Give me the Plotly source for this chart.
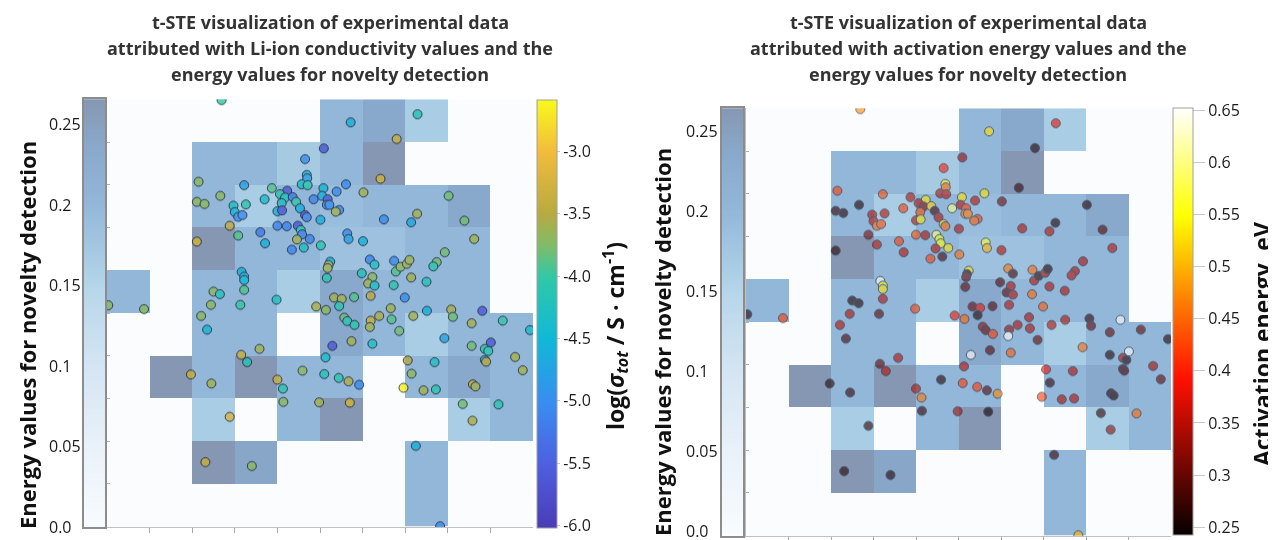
import numpy as np
import plotly.graph_objects as go

W, H = 1276, 540
OFF = 8  # page body margin of the exported html

# ---------------- DATA ----------------
tsne_x = [2.69,5.09,4.65,4.69,4.70,4.57,4.71,5.08,2.15,3.22,3.87,4.23,4.06,4.18,4.36,4.44,4.85,5.05,2.66,2.11,
          2.29,3.70,3.26,2.97,4.10,3.00,3.08,3.18,4.00,4.11,4.53,4.65,4.69,5.01,2.88,3.08,3.60,3.71,4.00,4.22,
          4.48,4.55,4.58,4.46,4.76,4.34,4.62,5.02,2.11,3.16,3.22,3.22,3.22,2.50,2.65,3.98,2.44,3.13,4.91,0.03,
          0.87,2.21,2.35,3.58,3.15,3.29,1.97,2.45,4.00,4.13,4.14,4.59,4.98,5.10,5.13,2.88,2.31,3.40,
          5.72,7.29,6.80,6.42,5.61,5.39,5.18,5.16,5.22,5.45,5.37,6.02,6.50,7.14,7.28,8.02,8.39,8.62,5.64,5.67,
          6.01,5.24,5.20,5.18,5.16,6.17,6.28,6.74,6.78,6.89,7.04,7.10,7.93,7.74,7.66,5.98,6.23,6.13,6.28,6.73,
          7.14,7.50,6.19,6.99,5.33,5.51,5.80,5.45,5.14,6.66,7.51,8.08,8.81,
          5.57,5.64,5.81,6.19,6.17,6.39,6.68,6.86,5.74,5.29,6.23,5.44,5.67,5.92,5.70,7.19,8.12,9.29,8.56,7.92,
          8.56,9.01,8.87,8.95,9.93,8.87,8.90,9.58,9.76,7.06,7.69,7.15,6.96,7.43,7.72,8.59,8.65,8.35,8.58,9.19,
          7.25,7.82]
tsne_y = [9.98,8.85,8.60,8.23,8.15,8.01,7.99,7.92,8.07,7.99,7.92,7.86,7.78,7.70,7.71,7.60,7.66,7.74,7.74,7.60,
          7.55,7.66,7.54,7.51,7.57,7.36,7.25,7.29,7.38,7.40,7.45,7.29,7.24,7.18,7.04,6.81,6.89,6.63,7.04,7.03,
          7.04,6.94,6.84,6.72,6.73,6.48,6.53,6.58,6.67,5.96,5.85,5.77,5.54,5.50,5.44,5.31,5.19,5.19,5.15,5.18,
          5.09,4.93,4.61,4.16,4.02,3.85,3.56,3.35,3.44,3.23,2.92,3.65,2.91,3.57,3.96,2.57,1.51,1.42,
          9.46,9.65,9.07,8.14,8.01,7.84,7.66,7.53,7.53,7.41,7.37,7.82,7.19,7.12,7.32,7.74,7.16,6.73,6.86,6.73,
          6.68,6.20,6.12,6.05,5.82,6.25,6.13,6.22,5.97,6.08,6.15,6.24,6.42,6.19,6.09,5.93,5.84,5.69,5.64,5.65,
          5.83,5.73,5.40,5.36,5.36,5.33,5.37,5.16,5.07,5.11,5.05,5.08,5.05,
          4.89,4.81,4.72,4.82,4.67,4.93,4.85,4.58,4.34,4.23,4.28,3.48,3.40,3.32,2.90,4.93,4.91,4.82,4.76,4.41,
          4.23,4.31,4.16,4.11,4.60,3.90,3.86,3.97,3.66,3.89,3.85,3.58,3.25,3.19,3.21,3.33,3.28,2.87,2.48,2.86,
          1.89,0.01]
log_sigma = [-4.0,-5.6,-5.0,-4.6,-4.8,-4.4,-4.1,-4.5,-3.7,-4.8,-3.9,-5.6,-4.1,-4.2,-5.2,-4.0,-5.1,-4.6,-3.7,-3.7,
             -3.7,-4.4,-4.1,-4.3,-4.3,-4.5,-5.0,-5.0,-4.6,-5.6,-4.6,-5.6,-5.1,-4.6,-3.4,-3.9,-5.2,-4.6,-5.1,-5.1,
             -5.6,-4.1,-5.1,-3.6,-5.1,-5.1,-4.3,-4.1,-3.3,-4.6,-4.6,-4.5,-3.9,-3.7,-4.2,-4.3,-3.7,-4.0,-3.55,-3.7,
             -3.7,-3.7,-4.5,-3.6,-3.4,-4.2,-3.4,-3.6,-3.4,-4.1,-3.7,-3.7,-3.6,-4.2,-4.4,-3.2,-3.4,-3.7,
             -4.6,-4.2,-3.4,-3.3,-5.0,-5.0,-5.6,-5.0,-5.0,-5.0,-3.6,-3.6,-5.0,-4.7,-3.6,-3.8,-3.8,-3.6,-5.0,-4.8,
             -4.6,-4.6,-3.6,-3.6,-4.1,-5.1,-4.3,-5.0,-3.9,-3.7,-3.6,-3.6,-3.8,-3.8,-4.1,-4.2,-3.7,-3.6,-4.3,-4.1,
             -3.6,-4.2,-3.5,-5.0,-3.6,-3.6,-3.9,-4.1,-3.7,-3.6,-4.6,-3.55,-5.6,
             -3.8,-4.1,-4.1,-3.4,-3.6,-3.55,-3.9,-3.8,-3.6,-5.6,-4.3,-4.1,-3.55,-5.0,-3.3,-3.6,-3.8,-4.0,-3.6,-4.8,
             -3.8,-5.6,-4.1,-4.1,-4.4,-4.3,-3.5,-3.6,-3.6,-3.5,-4.3,-3.7,-2.65,-3.6,-4.1,-3.4,-3.6,-3.8,-3.55,-4.1,
             -4.6,-5.0]
act_energy = [0.47,0.33,0.40,0.54,0.45,0.35,0.35,0.53,0.42,0.43,
              0.345,0.53,0.345,0.32,0.52,0.28,0.60,0.35,0.26,0.27,
              0.26,0.42,0.35,0.345,0.43,0.35,0.44,0.43,0.35,0.53,
              0.345,0.53,0.45,0.35,0.32,0.35,0.42,0.35,0.43,0.345,
              0.60,0.55,0.55,0.35,0.53,0.42,0.28,0.45,0.26,0.65,
              0.55,0.53,0.35,0.26,0.26,0.42,0.345,0.29,0.38,0.26,
              0.42,0.35,0.28,0.345,0.30,0.35,0.26,0.27,0.35,0.46,
              0.27,0.26,0.34,0.42,0.35,0.27,0.26,0.26,
              0.53,0.38,0.26,0.27,0.53,0.35,0.42,0.46,0.46,0.42,
              0.44,0.31,0.35,0.35,0.26,0.26,0.29,0.35,0.56,0.50,
              0.35,0.53,0.27,0.30,0.30,0.46,0.28,0.45,0.35,0.26,
              0.345,0.26,0.345,0.345,0.35,0.29,0.345,0.29,0.345,0.45,
              0.345,0.345,0.35,0.44,0.30,0.38,0.29,0.26,0.45,0.345,
              0.35,0.27,0.65,
              0.33,0.30,0.42,0.33,0.65,0.345,0.345,0.30,0.29,0.65,
              0.44,0.42,0.29,0.47,0.25,0.35,0.30,0.30,0.30,0.45,
              0.26,0.65,0.35,0.26,0.26,0.28,0.28,0.34,0.30,0.38,
              0.345,0.27,0.42,0.34,0.345,0.27,0.26,0.27,0.33,0.45,
              0.27,0.50]

N = None
energy_grid_top_down = [
    [N, N, N, N, N, 0.200, 0.235, 0.165, N, N],
    [N, N, 0.200, 0.200, 0.170, 0.200, 0.265, N, N, N],
    [N, N, 0.200, 0.165, 0.200, 0.190, 0.200, 0.200, 0.235, N],
    [N, N, 0.265, 0.200, 0.200, 0.185, 0.185, 0.200, 0.200, N],
    [0.200, N, 0.200, 0.200, 0.165, 0.235, 0.200, 0.200, 0.200, N],
    [N, N, 0.200, 0.200, N, 0.235, 0.200, 0.165, 0.200, 0.200],
    [N, 0.265, 0.200, 0.265, 0.200, 0.200, N, 0.200, 0.235, 0.200],
    [N, N, 0.165, N, 0.200, 0.265, N, N, 0.165, 0.200],
    [N, N, 0.265, 0.240, N, N, N, 0.200, N, N],
    [N, N, N, N, N, N, N, 0.200, N, N],
]
cell_centers = [i + 0.5 for i in range(10)]

energy_ticks = [0.0, 0.05, 0.1, 0.15, 0.2, 0.25]
energy_ticktext = ["0.0", "0.05", "0.1", "0.15", "0.2", "0.25"]
energy_max = 0.2656
sigma_ticks = [-6.0, -5.5, -5.0, -4.5, -4.0, -3.5, -3.0]
sigma_ticktext = ["-6.0", "-5.5", "-5.0", "-4.5", "-4.0", "-3.5", "-3.0"]
ea_ticks = [0.25, 0.3, 0.35, 0.4, 0.45, 0.5, 0.55, 0.6, 0.65]
ea_ticktext = ["0.25", "0.3", "0.35", "0.4", "0.45", "0.5", "0.55", "0.6", "0.65"]

title_left = ["t-STE visualization of experimental data",
              "attributed with Li-ion conductivity values and the",
              "energy values for novelty detection"]
title_right = ["t-STE visualization of experimental data",
               "attributed with activation energy values and the",
               "energy values for novelty detection"]

# ---------------- STYLE ----------------
heat_scale = [[0.0, '#f8fbfe'], [0.19, '#e9f1f9'], [0.38, '#d3e5f2'], [0.56, '#b6d6ea'],
              [0.62, '#a9cde4'], [0.70, '#9cc0de'], [0.753, '#93b7d9'], [0.885, '#89a9cc'],
              [1.0, '#8597b2']]
sigma_scale = [[0.0, '#4b3cb6'], [0.147, '#4e5fe0'], [0.29, '#3a8cf0'], [0.44, '#10b8d8'],
               [0.585, '#30c8a8'], [0.66, '#80bc68'], [0.735, '#b8aa40'], [0.88, '#f2bc3c'],
               [1.0, '#f9f91c']]
hot_scale = [[0.0, '#050000'], [0.365, '#ff1000'], [0.55, '#ff8000'], [0.746, '#ffff00'], [1.0, '#ffffff']]

z_grid = energy_grid_top_down[::-1]

fig = go.Figure()

def px2fx(p):
    return (p - OFF) / W

def px2fy(p):
    return 1 - (p - OFF) / H

panels = [
    dict(xa='x', ya='y', xs='x2', ys='y2', values=log_sigma, scale=sigma_scale,
         cmin=-6.02, cmax=-2.59, ticks=sigma_ticks, ticktext=sigma_ticktext, opacity=0.82,
         main=(107, 533, 99.3, 526.7), strip=(84, 105, 99.3, 526.7), strip_range=[0, energy_max],
         cbar=(537, 100.3, 528), cbar_ticklen=3),
    dict(xa='x3', ya='y3', xs='x4', ys='y4', values=act_energy, scale=hot_scale,
         cmin=0.242, cmax=0.652, ticks=ea_ticks, ticktext=ea_ticktext, opacity=0.6,
         main=(746, 1171, 108.3, 535.7), strip=(722, 743, 108.3, 535.7), strip_range=[-0.003, 0.2642],
         cbar=(1172.5, 108.3, 535.5), cbar_ticklen=12),
]

for p in panels:
    fig.add_trace(go.Heatmap(z=z_grid, x=cell_centers, y=cell_centers, xaxis=p['xa'], yaxis=p['ya'],
                             colorscale=heat_scale, zmin=0, zmax=energy_max, showscale=False,
                             hoverongaps=False))
    cx, ctop, cbot = p['cbar']
    fig.add_trace(go.Scatter(
        x=tsne_x, y=tsne_y, mode='markers', xaxis=p['xa'], yaxis=p['ya'],
        opacity=p['opacity'],
        marker=dict(size=9, color=p['values'], colorscale=p['scale'], cmin=p['cmin'], cmax=p['cmax'],
                    line=dict(width=1, color='rgba(25,30,45,1)'),
                    colorbar=dict(x=px2fx(cx), xanchor='left', y=px2fy((ctop + cbot) / 2), yanchor='middle',
                                  len=(cbot - ctop) / H, lenmode='fraction', thickness=20,
                                  thicknessmode='pixels', xpad=0, ypad=0,
                                  tickvals=p['ticks'], ticktext=p['ticktext'], ticks='outside',
                                  ticklen=p['cbar_ticklen'], tickcolor='rgba(120,120,120,0.4)',
                                  tickfont=dict(family='Open Sans', size=16, color='#1a1a1a'),
                                  outlinewidth=1, outlinecolor='#a0a0a0')),
        showlegend=False))
    lv = np.linspace(max(p['strip_range'][0], 0), p['strip_range'][1], 200)
    fig.add_trace(go.Heatmap(z=[[v] for v in lv], x=[0], y=lv, xaxis=p['xs'], yaxis=p['ys'],
                             colorscale=heat_scale, zmin=0, zmax=energy_max, showscale=False))

def main_axes(x0, x1, y0, y1):
    xa = dict(domain=[px2fx(x0), px2fx(x1)], range=[0, 10], showgrid=False, zeroline=False,
              showticklabels=False, ticks='outside', ticklen=5, tickcolor='#a8a8a8',
              tickvals=list(range(1, 10)), showline=True, linecolor='#c0c0c0', linewidth=1)
    ya = dict(domain=[px2fy(y1), px2fy(y0)], range=[0, 10], showgrid=False, zeroline=False,
              showticklabels=False, ticks='inside', ticklen=3, tickcolor='#b0b0b0',
              tickvals=list(range(1, 10)), showline=True, linecolor='#c0c0c0', linewidth=1)
    return xa, ya

def strip_axes(x0, x1, y0, y1, yr):
    xa = dict(domain=[px2fx(x0), px2fx(x1)], range=[-0.5, 0.5], showgrid=False, zeroline=False,
              showticklabels=False, ticks='', showline=True, mirror=True, linecolor='#8c8c8c', linewidth=2)
    ya = dict(domain=[px2fy(y1), px2fy(y0)], range=yr, showgrid=False, zeroline=False,
              showticklabels=False, ticks='', showline=True, mirror=True, linecolor='#8c8c8c', linewidth=2)
    return xa, ya

layout_axes = {}
names = [('xaxis', 'yaxis', 'xaxis2', 'yaxis2'), ('xaxis3', 'yaxis3', 'xaxis4', 'yaxis4')]
for p, (mx, my, sx, sy) in zip(panels, names):
    xa, ya = main_axes(*p['main'])
    xa['anchor'] = p['ya']
    ya['anchor'] = p['xa']
    layout_axes[mx] = xa
    layout_axes[my] = ya
    xs, ys = strip_axes(*p['strip'], p['strip_range'])
    xs['anchor'] = p['ys']
    ys['anchor'] = p['xs']
    layout_axes[sx] = xs
    layout_axes[sy] = ys

annotations = []
for p, lab_x in zip(panels, [47, 684]):
    for v, t in zip(energy_ticks, energy_ticktext):
        annotations.append(dict(xref='paper', yref=p['ys'], x=px2fx(lab_x), y=v, text=t, showarrow=False,
                                xanchor='left', yanchor='middle',
                                font=dict(family='Open Sans', size=16, color='#1a1a1a')))

for lines, cxp in [(title_left, 330), (title_right, 968)]:
    for k, line in enumerate(lines):
        annotations.append(dict(xref='paper', yref='paper', x=px2fx(cxp), y=px2fy(22 + 26 * k),
                                text='<b>' + line + '</b>', showarrow=False, xanchor='center',
                                yanchor='middle',
                                font=dict(family='Open Sans', size=18, color='#333333')))

ylab_font = dict(family='Open Sans', size=22, color='#111111')
cb_font = dict(family='Open Sans', size=23, color='#111111')
annotations.append(dict(xref='paper', yref='paper', x=px2fx(27), y=px2fy(335), textangle=-90,
                        text='<b>Energy values for novelty detection</b>', showarrow=False,
                        xanchor='center', yanchor='middle', font=ylab_font))
annotations.append(dict(xref='paper', yref='paper', x=px2fx(662), y=px2fy(342), textangle=-90,
                        text='<b>Energy values for novelty detection</b>', showarrow=False,
                        xanchor='center', yanchor='middle', font=ylab_font))
annotations.append(dict(xref='paper', yref='paper', x=px2fx(615), y=px2fy(336), textangle=-90,
                        text='<b>log(<i>σ<sub>tot</sub></i> / S · cm<sup>-1</sup>)</b>', showarrow=False,
                        xanchor='center', yanchor='middle', font=cb_font))
annotations.append(dict(xref='paper', yref='paper', x=px2fx(1262), y=px2fy(344), textangle=-90,
                        text='<b>Activation energy, eV</b>', showarrow=False,
                        xanchor='center', yanchor='middle', font=cb_font))

fig.update_layout(width=W, height=H, margin=dict(l=0, r=0, t=0, b=0),
                  paper_bgcolor='white', plot_bgcolor='#fbfcfe', showlegend=False,
                  annotations=annotations, **layout_axes)

fig.write_html("out.html")
